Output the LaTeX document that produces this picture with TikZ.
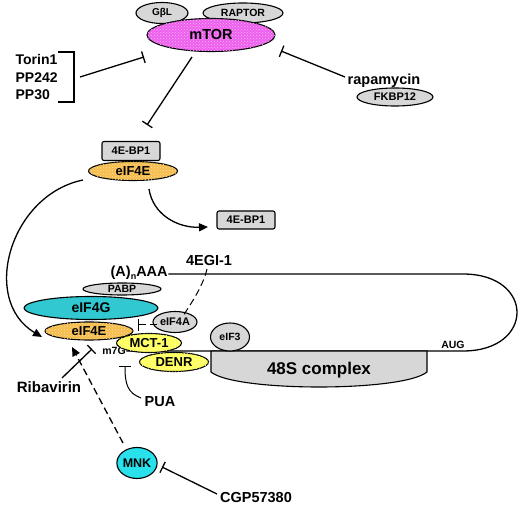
\documentclass[tikz,border=0pt]{standalone}
\usepackage{fontspec}
\setmainfont{Liberation Sans}
\usetikzlibrary{shapes.geometric,arrows.meta,patterns}
\definecolor{mtorc}{RGB}{238,95,238}
\definecolor{orangec}{RGB}{245,188,75}
\definecolor{cyanc}{RGB}{50,200,210}
\definecolor{mnkc}{RGB}{40,225,235}
\definecolor{greyc}{RGB}{215,215,215}
\definecolor{yellowc}{RGB}{255,255,90}
\newcommand{\fsz}[1]{\fontsize{#1}{#1}\selectfont\bfseries}
\begin{document}
\begin{tikzpicture}[x=1pt,y=-1pt, line width=1.3pt,
 prot/.style={ellipse, draw, inner sep=0pt, line width=1.1pt},
 dotty/.style={fill=#1, postaction={pattern=crosshatch dots, pattern color=white!55!#1}},
 boxp/.style={draw, fill=greyc, rounded corners=2pt, inner sep=0pt, line width=1.1pt},
 lbl/.style={inner sep=0pt},
 inh/.style={-{Bar[width=12pt,line width=1.3pt]}},
 act/.style={-{Triangle[length=9pt,width=8pt]}},
 dsh/.style={dash pattern=on 7pt off 4pt}]
\useasboundingbox (0,0) rectangle (520,505);

% mTOR complex
\node[prot, fill=greyc, minimum width=52pt, minimum height=21pt, font=\fsz{10}] (gbl) at (162,13) {GβL};
\node[prot, fill=greyc, minimum width=80pt, minimum height=20pt, font=\fsz{10.5}] (raptor) at (243,13) {RAPTOR};
\node[prot, dotty=mtorc, minimum width=128pt, minimum height=33pt, font=\fsz{14.5}] (mtor) at (211,35) {mTOR};

% inhibitors
\node[lbl, anchor=west, font=\fsz{14}] (torin) at (15,59) {Torin1};
\node[lbl, anchor=west, font=\fsz{14}] (pp242) at (15,77.5) {PP242};
\node[lbl, anchor=west, font=\fsz{14}] (pp30) at (15,94.5) {PP30};
\coordinate (bt) at (58,52);
\coordinate (bb) at (58,102);
\draw (bt) -- (74,52) -- (74,102) -- (bb);
\coordinate (brk) at (80,77);
\coordinate (tinh) at (144,57);
\draw[inh] (brk) -- (tinh);

\node[lbl, font=\fsz{14.5}] (rapa) at (384,81) {rapamycin};
\node[prot, fill=greyc, minimum width=76pt, minimum height=18pt, font=\fsz{11}] (fkbp) at (395,97) {FKBP12};
\coordinate (rs) at (345,77);
\coordinate (re) at (281,51);
\draw[inh] (rs) -- (re);

\coordinate (m1) at (192,57);
\coordinate (m2) at (147,125);
\draw[inh] (m1) -- (m2);

% 4E-BP1 / eIF4E
\node[boxp, minimum width=58pt, minimum height=19pt, font=\fsz{11}] (bp1a) at (131,151) {4E-BP1};
\node[prot, dotty=orangec, minimum width=89pt, minimum height=19pt, font=\fsz{13}] (e4ea) at (133,171) {eIF4E};
\node[boxp, minimum width=58pt, minimum height=18pt, font=\fsz{11}] (bp1b) at (246,220) {4E-BP1};
\coordinate (c1s) at (149,189);
\coordinate (c1e) at (208,227);
\draw[act] (c1s) .. controls (153,215) and (178,228) .. (c1e);
\coordinate (c2s) at (83,180);
\coordinate (c2e) at (42,337);
\draw[act] (c2s) .. controls (10,195) and (-20,300) .. (c2e);

% mRNA
\node[lbl, anchor=west, font=\fsz{14.5}] (polyA) at (110,273) {(A)\raisebox{-3pt}{\fsz{9}n}AAA};
\node[lbl, font=\fsz{10.5}] (m7g) at (114,351) {m7G};
\coordinate (mtop) at (463,274);
\coordinate (mbot) at (463,351);
\draw (polyA.east |- mtop) -- (mtop) .. controls +(72,0) and +(72,0) .. (mbot) -- (m7g.east |- mbot);
\node[lbl, font=\fsz{10.5}] (aug) at (453,345) {AUG};

% 48S
\draw[fill=greyc, line width=1.1pt] (211,351) -- (211,372) .. controls (235,392) and (403,392) .. (427,372) -- (427,351) -- cycle;
\node[lbl, font=\fsz{17}] (s48) at (319,370) {48S complex};
\node[prot, fill=greyc, minimum width=39pt, minimum height=28pt, font=\fsz{10.5}] (eif3) at (230,337) {eIF3};

% initiation complex
\node[prot, fill=greyc, minimum width=78pt, minimum height=12pt, font=\fsz{10.5}] (pabp) at (122,289) {PABP};
\node[prot, fill=greyc, minimum width=44pt, minimum height=21pt, font=\fsz{11}] (eif4a) at (175,322) {eIF4A};
\node[prot, fill=cyanc, minimum width=134pt, minimum height=23pt, font=\fsz{14}] (eif4g) at (91,308) {eIF4G};
\node[prot, dotty=orangec, minimum width=88pt, minimum height=18pt, font=\fsz{13}] (e4eb) at (89,331) {eIF4E};
\node[prot, dotty=yellowc, minimum width=65pt, minimum height=19pt, font=\fsz{13}] (mct) at (149,343) {MCT-1};
\node[prot, dotty=yellowc, minimum width=69pt, minimum height=19pt, font=\fsz{13}] (denr) at (174,362) {DENR};

% 4EGI-1
\node[lbl, font=\fsz{14.5}] (egi) at (209,261) {4EGI-1};
\coordinate (g1) at (207,269);
\coordinate (g2) at (183,316);
\draw[dsh, line width=1pt] (g1) .. controls (203,286) and (192,302) .. (g2);
\coordinate (a1) at (157,325);
\coordinate (a2) at (138,325);
\draw[dsh, inh, line width=1pt] (a1) -- (a2);

% Ribavirin
\node[lbl, font=\fsz{15}] (riba) at (49,387) {Ribavirin};
\coordinate (r1) at (62,378);
\coordinate (r2) at (92,349);
\draw[inh] (r1) -- (r2);

% PUA
\node[lbl, font=\fsz{14.5}] (pua) at (160,402) {PUA};
\coordinate (p1) at (141,398);
\coordinate (p2) at (125,366);
\draw[inh, line width=1pt] (p1) .. controls (128,393) and (125,385) .. (p2);

% MNK
\node[prot, fill=mnkc, minimum width=39pt, minimum height=31pt, font=\fsz{12.5}] (mnk) at (137,463) {MNK};
\coordinate (k1) at (123,443);
\coordinate (k2) at (72,347);
\draw[dsh, act] (k1) -- (k2);
\node[lbl, font=\fsz{14.5}] (cgp) at (256,498) {CGP57380};
\coordinate (q1) at (217,494);
\coordinate (q2) at (162,467);
\draw[inh] (q1) -- (q2);
\end{tikzpicture}
\end{document}
